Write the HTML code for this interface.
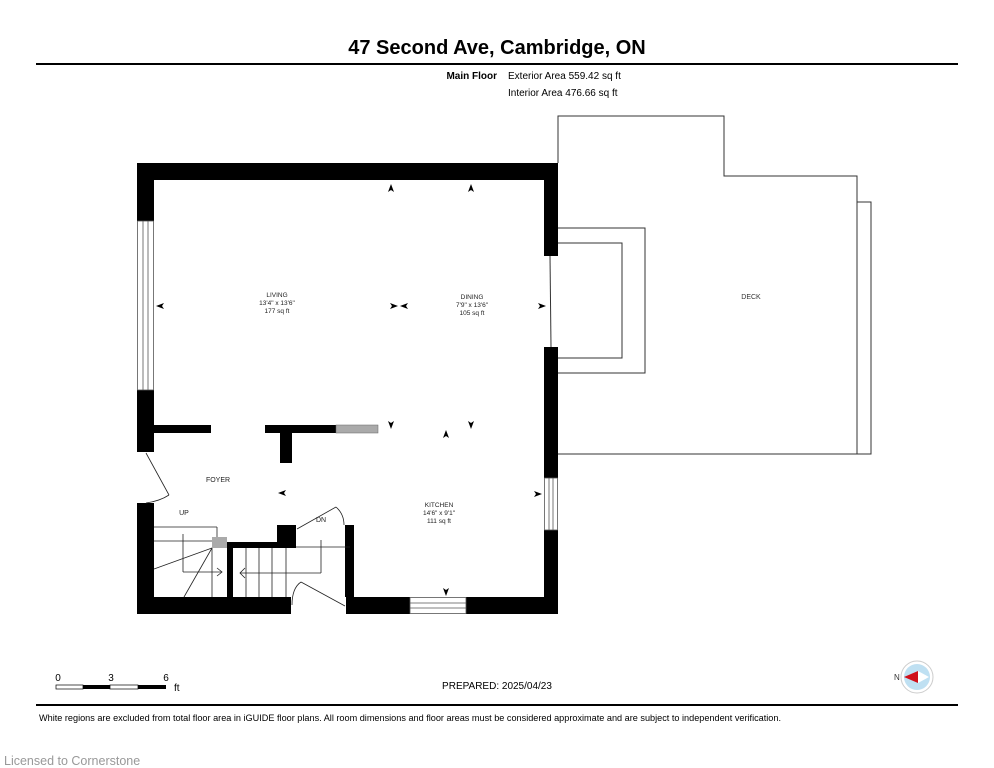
<!DOCTYPE html>
<html><head><meta charset="utf-8"><style>
body{margin:0;background:#fff;width:994px;height:768px;overflow:hidden}
svg{display:block}
text{font-family:"Liberation Sans",sans-serif}
</style></head><body>
<svg width="994" height="768" viewBox="0 0 994 768">
<text x="497" y="54" text-anchor="middle" font-size="20" font-weight="bold" fill="#000">47 Second Ave, Cambridge, ON</text>
<rect x="36" y="63" width="922" height="2" fill="#000"/>
<text x="497" y="79" text-anchor="end" font-size="10" font-weight="bold">Main Floor</text>
<text x="508" y="79" font-size="10">Exterior Area 559.42 sq ft</text>
<text x="508" y="96" font-size="10">Interior Area 476.66 sq ft</text>

<g fill="none" stroke="#333" stroke-width="1">
<path d="M558 163 V116 H724 V176 H857 V454 H558"/>
<path d="M857 202 H871 V454 H857"/>
<path d="M558 228 H645 V373 H558"/>
<path d="M558 243 H622 V358 H558"/>
<line x1="550" y1="256" x2="551" y2="347"/>
</g>
<text x="751" y="299" text-anchor="middle" font-size="7" fill="#333">DECK</text>

<g fill="#000">
<rect x="137" y="163" width="421" height="17"/>
<rect x="137" y="163" width="17" height="58"/>
<rect x="137" y="390" width="17" height="62"/>
<rect x="137" y="503" width="17" height="111"/>
<rect x="137" y="597" width="154" height="17"/>
<rect x="346" y="597" width="64" height="17"/>
<rect x="466" y="597" width="92" height="17"/>
<rect x="544" y="163" width="14" height="93"/>
<rect x="544" y="347" width="14" height="131"/>
<rect x="544" y="530" width="14" height="84"/>
<rect x="154" y="425" width="57" height="8"/>
<rect x="265" y="425" width="71" height="8"/>
<rect x="280" y="425" width="12" height="38"/>
<rect x="277" y="525" width="19" height="23"/>
<rect x="227" y="542" width="69" height="6"/>
<rect x="227" y="542" width="6" height="55"/>
<rect x="345" y="525" width="9" height="72"/>
</g>
<rect x="336" y="425" width="42" height="8" fill="#aaa" stroke="#666" stroke-width="0.5"/>
<rect x="212" y="537" width="15" height="11" fill="#aaa"/>

<g fill="#fff" stroke="#555" stroke-width="0.8">
<rect x="137.5" y="221" width="16" height="169"/>
<line x1="143" y1="221" x2="143" y2="390"/><line x1="148" y1="221" x2="148" y2="390"/>
<rect x="544.5" y="478" width="13" height="52"/>
<line x1="549" y1="478" x2="549" y2="530"/><line x1="553" y1="478" x2="553" y2="530"/>
<rect x="410" y="597.5" width="56" height="16"/>
<line x1="410" y1="603" x2="466" y2="603"/><line x1="410" y1="608" x2="466" y2="608"/>
</g>

<g fill="none" stroke="#222" stroke-width="0.8">
<line x1="146" y1="453" x2="169" y2="495"/>
<path d="M146 503 Q160 501 169 495"/>
<line x1="297" y1="529" x2="336" y2="507"/>
<path d="M336 507 Q344 514 344 525"/>
<line x1="301" y1="582" x2="345" y2="606"/>
<path d="M292 605 Q292 588 301 582"/>
<line x1="154" y1="527" x2="217" y2="527"/>
<line x1="217" y1="527" x2="217" y2="537"/>
<line x1="154" y1="541" x2="212" y2="541"/>
<line x1="212" y1="548" x2="212" y2="597"/>
<line x1="154" y1="569" x2="212" y2="548"/>
<line x1="184" y1="597" x2="212" y2="548"/>
<line x1="183" y1="534" x2="183" y2="572"/>
<line x1="183" y1="572" x2="222" y2="572"/>
<path d="M217 568 L222 572 L217 576"/>
<line x1="246" y1="548" x2="246" y2="597"/><line x1="259" y1="548" x2="259" y2="597"/>
<line x1="272" y1="548" x2="272" y2="597"/><line x1="286" y1="548" x2="286" y2="597"/>
<line x1="296" y1="547" x2="350" y2="547"/>
<line x1="321" y1="540" x2="321" y2="573"/>
<line x1="240" y1="573" x2="321" y2="573"/>
<path d="M245 568 L240 573 L245 578"/>
</g>

<g font-size="6.5" fill="#222" text-anchor="middle">
<text x="277" y="297">LIVING</text><text x="277" y="305">13'4" x 13'6"</text><text x="277" y="313">177 sq ft</text>
<text x="472" y="299">DINING</text><text x="472" y="307">7'9" x 13'6"</text><text x="472" y="315">105 sq ft</text>
<text x="439" y="507">KITCHEN</text><text x="439" y="515">14'6" x 9'1"</text><text x="439" y="523">111 sq ft</text>
<text x="218" y="482" font-size="7">FOYER</text>
<text x="184" y="515" font-size="7">UP</text>
<text x="321" y="522" font-size="7">DN</text>
</g>
<g fill="#000">
<path d="M391 184 l-3 8 l3 -2 l3 2z"/><path d="M471 184 l-3 8 l3 -2 l3 2z"/>
<path d="M156 306 l8 -3 l-2 3 l2 3z"/>
<path d="M398 306 l-8 -3 l2 3 l-2 3z"/><path d="M400 306 l8 -3 l-2 3 l2 3z"/>
<path d="M546 306 l-8 -3 l2 3 l-2 3z"/>
<path d="M391 429 l-3 -8 l3 2 l3 -2z"/><path d="M471 429 l-3 -8 l3 2 l3 -2z"/>
<path d="M446 430 l-3 8 l3 -2 l3 2z"/>
<path d="M278 493 l8 -3 l-2 3 l2 3z"/>
<path d="M542 494 l-8 -3 l2 3 l-2 3z"/>
<path d="M446 596 l-3 -8 l3 2 l3 -2z"/>
</g>

<text x="58" y="681" font-size="10" text-anchor="middle">0</text>
<text x="111" y="681" font-size="10" text-anchor="middle">3</text>
<text x="166" y="681" font-size="10" text-anchor="middle">6</text>
<text x="174" y="691" font-size="10">ft</text>
<rect x="56" y="685" width="27" height="4" fill="#fff" stroke="#000" stroke-width="0.7"/>
<rect x="83" y="685" width="27" height="4" fill="#000"/>
<rect x="110" y="685" width="28" height="4" fill="#fff" stroke="#000" stroke-width="0.7"/>
<rect x="138" y="685" width="28" height="4" fill="#000"/>
<text x="497" y="689" text-anchor="middle" font-size="10">PREPARED:  2025/04/23</text>
<circle cx="917" cy="677" r="16" fill="#fff" stroke="#ccc"/>
<circle cx="917" cy="677" r="13" fill="#bfe0f2"/>
<path d="M904 677 L918 671 L918 683z" fill="#d0101a"/>
<path d="M918 671 L929 677 L918 683z" fill="#fff"/>
<text x="894" y="680" font-size="8" fill="#333">N</text>
<rect x="36" y="704" width="922" height="2" fill="#000"/>
<text x="39" y="721" font-size="9" textLength="742" lengthAdjust="spacingAndGlyphs">White regions are excluded from total floor area in iGUIDE floor plans. All room dimensions and floor areas must be considered approximate and are subject to independent verification.</text>
<text x="4" y="765" font-size="12.5" fill="#999">Licensed to Cornerstone</text>
</svg>
</body></html>
